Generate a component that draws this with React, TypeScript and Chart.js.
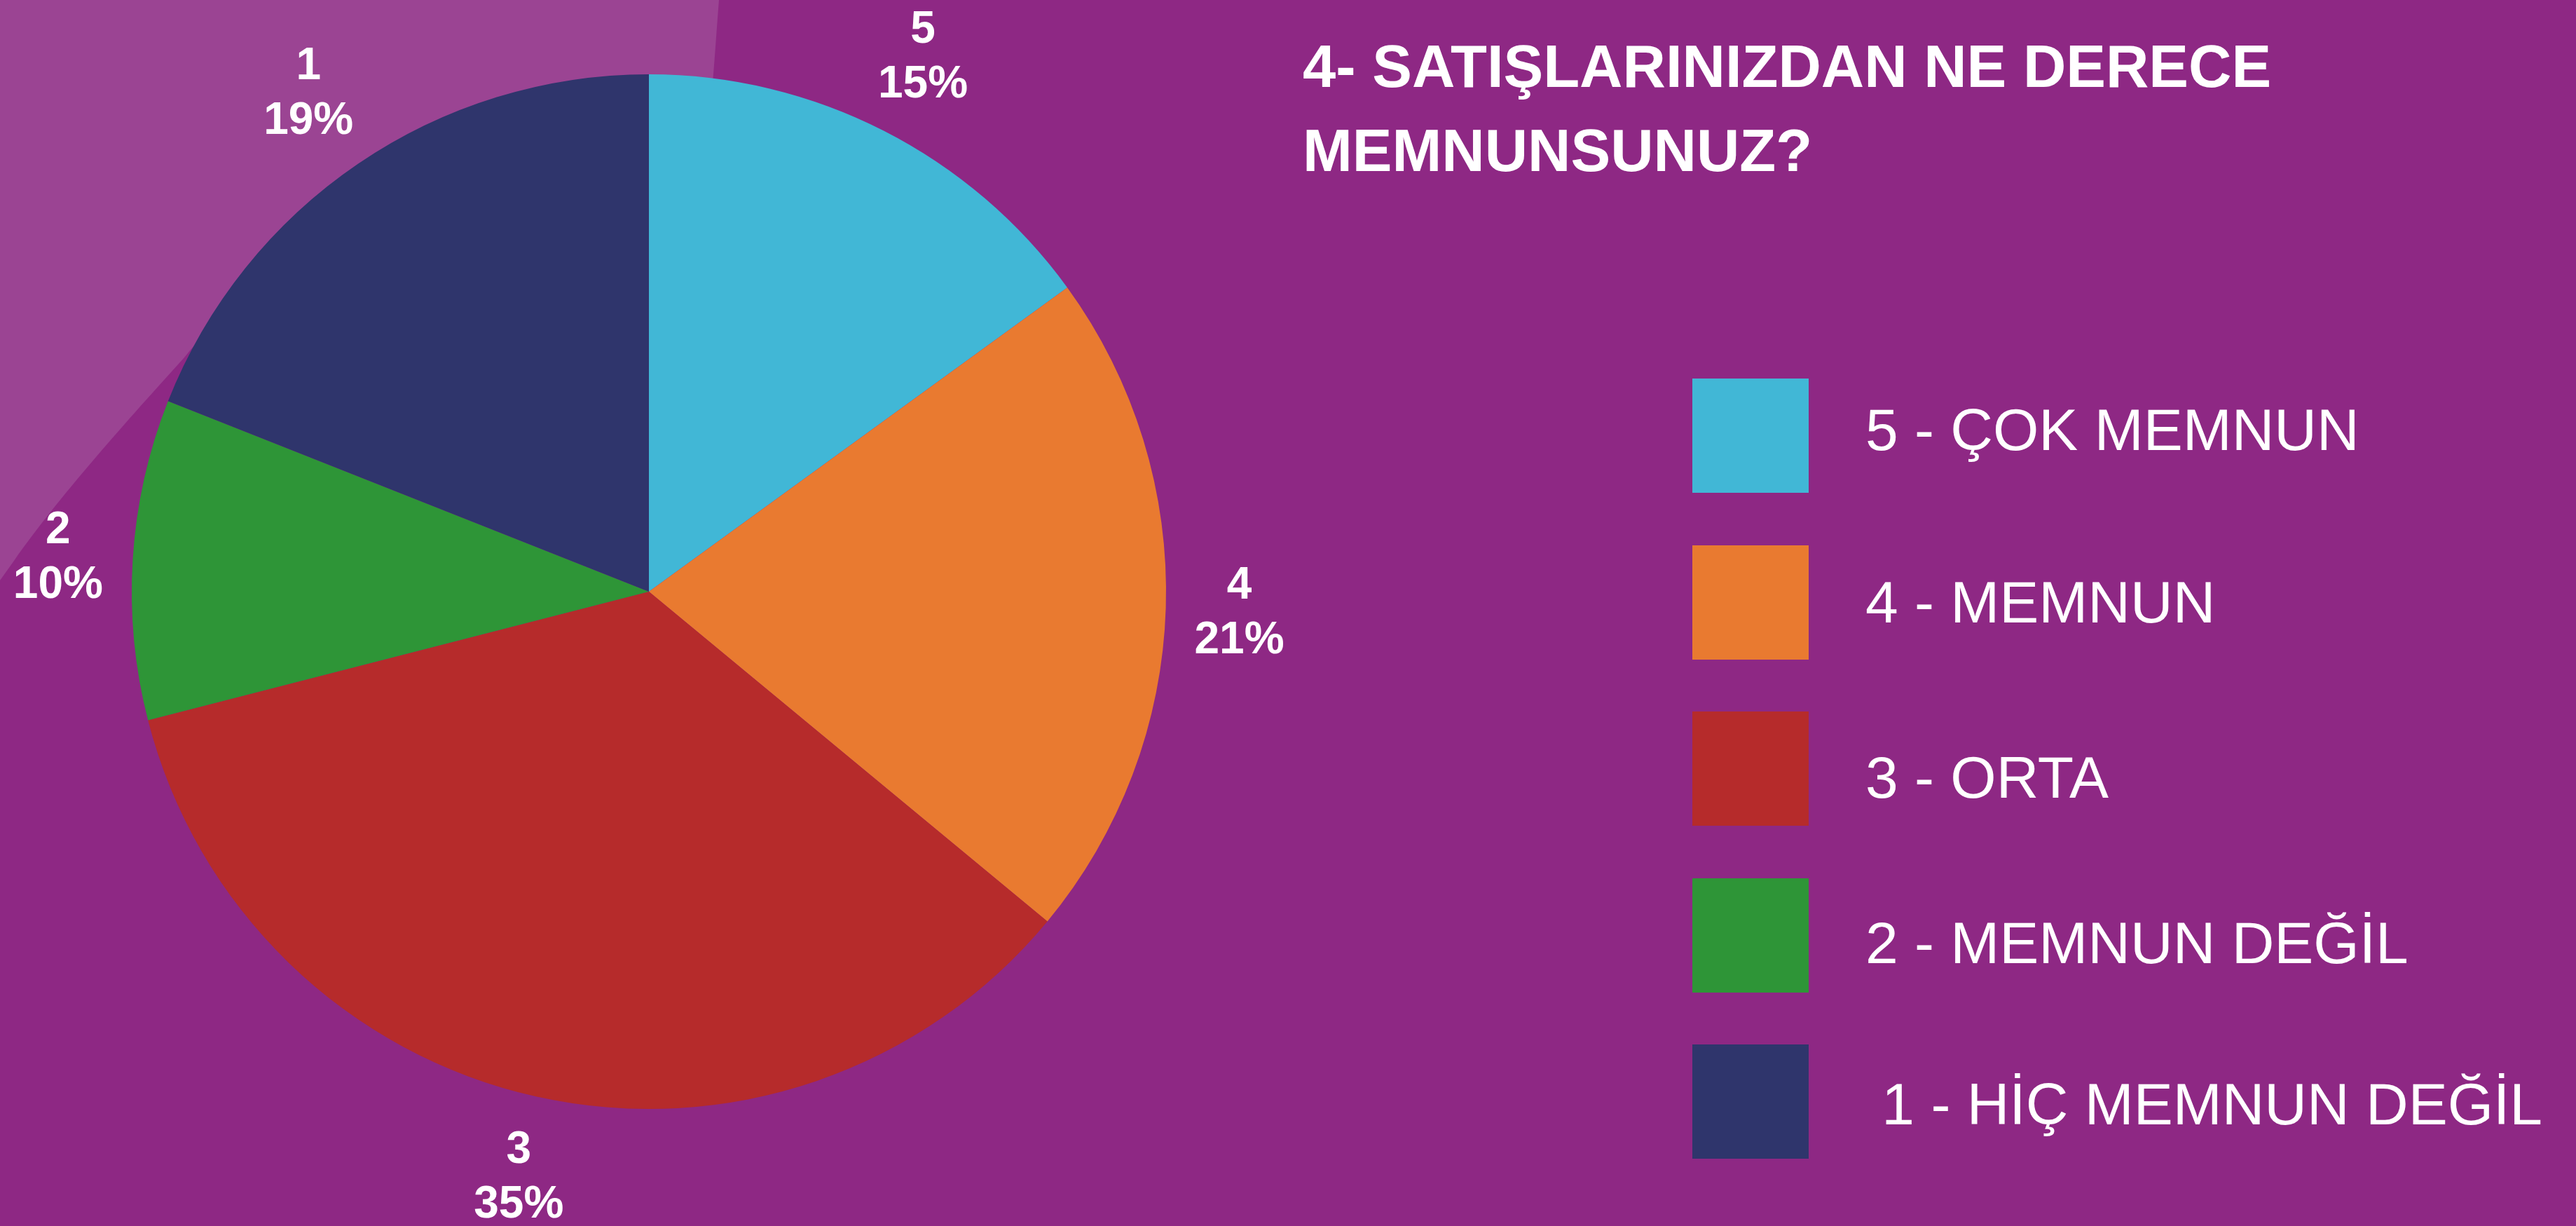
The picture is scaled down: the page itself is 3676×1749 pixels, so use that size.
import React, { useEffect, useRef } from "react";
import { Chart, registerables } from "chart.js";

Chart.register(...registerables);

// ---- data ----
const categories = ["5", "4", "3", "2", "1"];
const values = [15, 21, 35, 10, 19];
const legendLabels = [
  "5 - ÇOK MEMNUN",
  "4 - MEMNUN",
  "3 - ORTA",
  "2 - MEMNUN DEĞİL",
  " 1 - HİÇ MEMNUN DEĞİL",
];
const sliceColors = ["#41B7D6", "#E97A30", "#B62B2B", "#2E9537", "#2F356C"];
const titleLines = ["4- SATIŞLARINIZDAN NE DERECE", "MEMNUNSUNUZ?"];

// ---- layout / style ----
const W = 3676;
const H = 1749;
const BG = "#8E2884";
const BG_LIGHT = "#9B4493";
const FONT = '"Liberation Sans", Arial, Helvetica, sans-serif';
const legendTextBaselines = [642, 888, 1138, 1374, 1604];

const backgroundShape = {
  id: "bgShape",
  beforeDraw(chart: any) {
    const ctx = chart.ctx as CanvasRenderingContext2D;
    ctx.save();
    ctx.fillStyle = BG_LIGHT;
    ctx.beginPath();
    ctx.moveTo(0, 0);
    ctx.lineTo(1026, 0);
    ctx.bezierCurveTo(1022, 50, 1019, 100, 1015, 140);
    ctx.bezierCurveTo(1000, 300, 450, 280, 263, 510);
    ctx.bezierCurveTo(200, 580, 90, 700, 20, 800);
    ctx.lineTo(0, 828);
    ctx.closePath();
    ctx.fill();
    ctx.restore();
  },
};

const outsideLabels = {
  id: "outsideLabels",
  afterDatasetsDraw(chart: any) {
    const ctx = chart.ctx as CanvasRenderingContext2D;
    const meta = chart.getDatasetMeta(0);
    const data = chart.data.datasets[0].data as number[];
    const total = data.reduce((a, b) => a + b, 0);
    ctx.save();
    ctx.font = `bold 64px ${FONT}`;
    ctx.fillStyle = "#FFFFFF";
    ctx.textAlign = "center";
    ctx.textBaseline = "alphabetic";
    meta.data.forEach((arc: any, i: number) => {
      const { x, y, startAngle, endAngle, outerRadius } = arc.getProps(
        ["x", "y", "startAngle", "endAngle", "outerRadius"],
        true
      );
      const mid = (startAngle + endAngle) / 2;
      const l1 = String(chart.data.labels[i]);
      const l2 = Math.round((data[i] / total) * 100) + "%";
      const w = Math.max(ctx.measureText(l1).width, ctx.measureText(l2).width);
      const halfH = 62;
      const ext = Math.abs(Math.cos(mid)) * (w / 2) + Math.abs(Math.sin(mid)) * halfH;
      const d = outerRadius + 39 + ext;
      const cx = x + Math.cos(mid) * d;
      const cy = y + Math.sin(mid) * d;
      ctx.fillText(l1, cx, cy - 16);
      ctx.fillText(l2, cx, cy + 62);
    });
    ctx.restore();
  },
};

export default function App() {
  const canvasRef = useRef<HTMLCanvasElement | null>(null);

  useEffect(() => {
    document.body.style.margin = "0";
    const canvas = canvasRef.current;
    if (!canvas) return;
    const chart = new Chart(canvas, {
      type: "pie",
      data: {
        labels: categories,
        datasets: [
          {
            data: values,
            backgroundColor: sliceColors,
            borderWidth: 0,
          },
        ],
      },
      options: {
        responsive: false,
        animation: false,
        devicePixelRatio: 1,
        events: [],
        layout: { padding: { left: 188, top: 106, right: 2012, bottom: 167 } },
        plugins: {
          legend: { display: false },
          tooltip: { enabled: false },
          title: { display: false },
        },
      } as any,
      plugins: [backgroundShape, outsideLabels],
    });
    return () => chart.destroy();
  }, []);

  return (
    <div
      style={{
        position: "fixed",
        left: 0,
        top: 0,
        width: W,
        height: H,
        background: BG,
        overflow: "hidden",
        fontFamily: FONT,
        color: "#FFFFFF",
      }}
    >
      <canvas
        ref={canvasRef}
        width={W}
        height={H}
        style={{ position: "absolute", left: 0, top: 0, width: W, height: H }}
      />
      <div
        style={{
          position: "absolute",
          left: 1859,
          top: 35,
          fontWeight: "bold",
          fontSize: 85,
          lineHeight: "120px",
          whiteSpace: "nowrap",
        }}
      >
        {titleLines.map((t, i) => (
          <div key={i}>{t}</div>
        ))}
      </div>
      {legendLabels.map((lab, i) => (
        <React.Fragment key={i}>
          <div
            style={{
              position: "absolute",
              left: 2415,
              top: 540 + i * 237.5,
              width: 166,
              height: 163,
              background: sliceColors[i],
            }}
          />
          <div
            style={{
              position: "absolute",
              left: 2662,
              top: legendTextBaselines[i] - 76,
              fontSize: 84,
              lineHeight: "94px",
              whiteSpace: "pre",
            }}
          >
            {lab}
          </div>
        </React.Fragment>
      ))}
    </div>
  );
}
